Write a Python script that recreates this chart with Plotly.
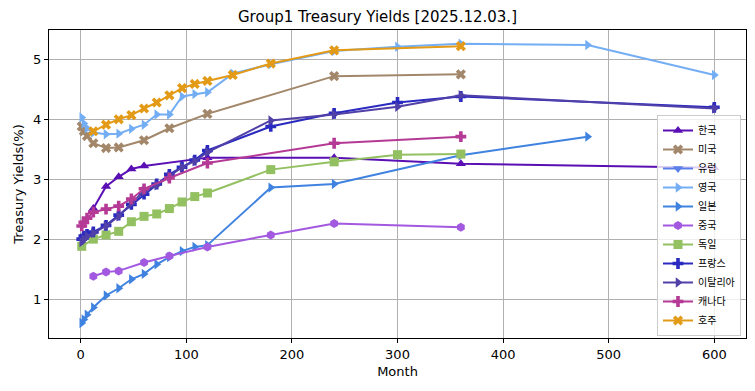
import plotly.graph_objects as go

# ---- data (months, yields %) ----
kr_m = [12, 24, 36, 48, 60, 120, 240, 360, 600]
kr_y = [2.51, 2.88, 3.04, 3.17, 3.22, 3.36, 3.36, 3.26, 3.19]

us_m = [1, 3, 6, 12, 24, 36, 60, 84, 120, 240, 360]
us_y = [3.88, 3.80, 3.72, 3.60, 3.52, 3.53, 3.65, 3.85, 4.09, 4.72, 4.75]

eu_m = [None]
eu_y = [None]

uk_m = [1, 3, 6, 12, 24, 36, 48, 60, 72, 84, 96, 108, 120, 144, 180, 240, 300, 360, 480, 600]
uk_y = [4.03, 3.93, 3.85, 3.78, 3.75, 3.76, 3.84, 3.91, 4.08, 4.08, 4.38, 4.42, 4.45, 4.76, 4.92, 5.14, 5.21, 5.26, 5.24, 4.74]

jp_m = [1, 3, 6, 12, 24, 36, 48, 60, 72, 84, 96, 108, 120, 180, 240, 360, 480]
jp_y = [0.60, 0.66, 0.74, 0.86, 1.06, 1.18, 1.33, 1.42, 1.58, 1.70, 1.80, 1.87, 1.90, 2.86, 2.92, 3.40, 3.71]

cn_m = [12, 24, 36, 60, 84, 120, 180, 240, 360]
cn_y = [1.38, 1.45, 1.47, 1.61, 1.72, 1.87, 2.07, 2.26, 2.20]

de_m = [1, 12, 24, 36, 48, 60, 72, 84, 96, 108, 120, 180, 240, 300, 360]
de_y = [1.88, 2.00, 2.07, 2.13, 2.29, 2.38, 2.42, 2.51, 2.62, 2.71, 2.77, 3.16, 3.29, 3.41, 3.42]

fr_m = [1, 3, 6, 12, 24, 36, 48, 60, 72, 84, 96, 108, 120, 180, 240, 300, 360, 600]
fr_y = [2.00, 2.05, 2.08, 2.12, 2.23, 2.40, 2.58, 2.75, 2.92, 3.08, 3.20, 3.32, 3.48, 3.88, 4.10, 4.28, 4.38, 4.20]

it_m = [1, 3, 6, 12, 24, 36, 48, 60, 72, 84, 96, 108, 120, 180, 240, 300, 360, 600]
it_y = [1.95, 2.00, 2.05, 2.10, 2.22, 2.38, 2.60, 2.80, 2.90, 3.05, 3.20, 3.30, 3.45, 3.98, 4.08, 4.21, 4.40, 4.18]

ca_m = [1, 3, 6, 12, 24, 36, 48, 60, 84, 120, 240, 360]
ca_y = [2.22, 2.28, 2.35, 2.45, 2.50, 2.55, 2.67, 2.84, 3.02, 3.27, 3.60, 3.71]

au_m = [12, 24, 36, 48, 60, 72, 84, 96, 108, 120, 144, 180, 240, 360]
au_y = [3.80, 3.91, 4.00, 4.07, 4.18, 4.28, 4.40, 4.52, 4.59, 4.64, 4.74, 4.93, 5.15, 5.22]

names = ["한국", "미국", "유럽", "영국", "일본", "중국", "독일", "프랑스", "이탈리아", "캐나다", "호주"]
series = [(kr_m, kr_y), (us_m, us_y), (eu_m, eu_y), (uk_m, uk_y), (jp_m, jp_y), (cn_m, cn_y),
          (de_m, de_y), (fr_m, fr_y), (it_m, it_y), (ca_m, ca_y), (au_m, au_y)]
colors = ["#5a0fb4", "#a3876a", "#5b7fe8", "#73aef5", "#3f82e0", "#a259e0",
          "#93c061", "#2a2ac0", "#5040a8", "#b53a96", "#e39b17"]
symbols = ["triangle-up", "x", "triangle-down", "triangle-right", "triangle-right", "hexagon",
           "square", "cross", "triangle-right", "cross", "x"]

fig = go.Figure()
for nm, (m, y), c, s in zip(names, series, colors, symbols):
    fig.add_trace(go.Scatter(
        x=m, y=y, name=nm, mode="lines+markers",
        line=dict(color=c, width=2),
        marker=dict(color=c, symbol=s, size=9, line=dict(width=0)),
    ))

font = "DejaVu Sans"
fig.update_layout(
    width=755, height=391,
    margin=dict(l=49, r=9, t=30, b=53, autoexpand=False),
    paper_bgcolor="white", plot_bgcolor="white",
    font=dict(family=font, size=13, color="black"),
    title=dict(text="Group1 Treasury Yields [2025.12.03.]", x=0.5, xanchor="center",
               y=1 - 17 / 391, yanchor="middle", font=dict(size=15, family=font)),
    showlegend=True,
    legend=dict(x=(741 - 49) / 697, y=2 / 308, xanchor="right", yanchor="bottom",
                bgcolor="rgba(255,255,255,0.8)", bordercolor="#cccccc", borderwidth=1,
                font=dict(family="Noto Sans CJK KR", size=10), tracegroupgap=0,
                itemwidth=30),
)
fig.update_xaxes(range=[-30, 630], tickvals=[0, 100, 200, 300, 400, 500, 600],
                 automargin=False,
                 showgrid=True, gridcolor="#b0b0b0", gridwidth=1,
                 showline=True, linecolor="black", linewidth=1, mirror=True,
                 ticks="outside", ticklen=4, tickcolor="black", zeroline=False,
                 title=dict(text="Month", font=dict(size=13), standoff=6))
fig.update_yaxes(range=[0.35, 5.49], tickvals=[1, 2, 3, 4, 5],
                 automargin=False,
                 showgrid=True, gridcolor="#b0b0b0", gridwidth=1,
                 showline=True, linecolor="black", linewidth=1, mirror=True,
                 ticks="outside", ticklen=4, tickcolor="black", zeroline=False,
                 title=dict(text="Treasury Yields(%)", font=dict(size=13), standoff=6))

fig.write_html("out.html", config={"displayModeBar": False},
               post_script="document.body.style.margin='0';")
